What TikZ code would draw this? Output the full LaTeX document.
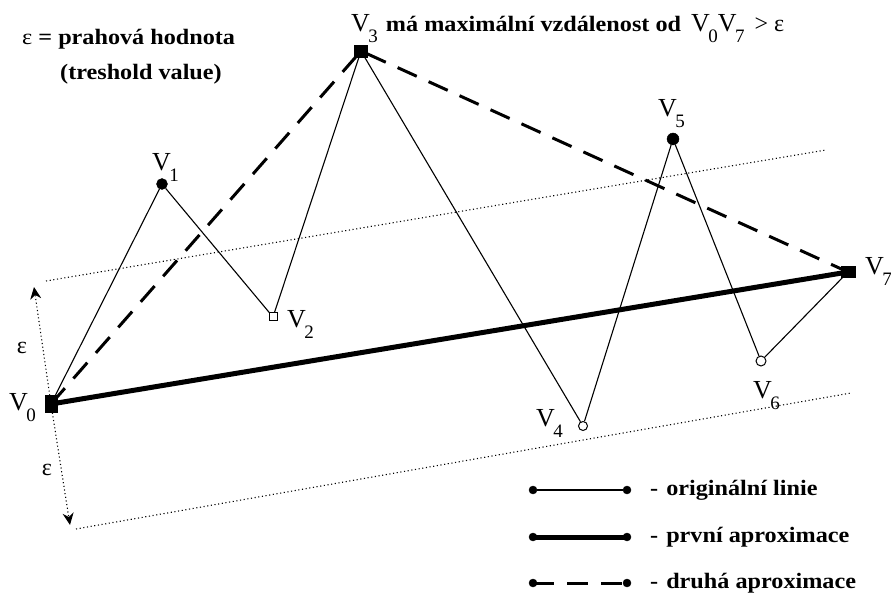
\documentclass[tikz,border=0pt]{standalone}
\usepackage{amsmath}
\usepackage{fontspec}
\setmainfont{Liberation Serif}
\newfontfamily\widebold[FakeStretch=1.1]{Liberation Serif}
\usetikzlibrary{arrows.meta, positioning}
\newcommand{\Vx}[1]{V\kern-1.5pt\raisebox{-11pt}{\fontsize{19}{19}\selectfont #1}}
\tikzset{
  sqfill/.style={
    rectangle,
    draw=black,
    fill=black,
    inner sep=0pt
  },
  dotfill/.style={
    circle,
    draw=black,
    fill=black,
    inner sep=0pt,
    minimum size=#1
  },
  sqopen/.style={
    rectangle,
    draw=black,
    fill=white,
    line width=1pt,
    inner sep=0pt,
    minimum size=#1
  },
  dotopen/.style={
    circle,
    draw=black,
    fill=white,
    line width=1pt,
    inner sep=0pt,
    minimum size=#1
  },
  origline/.style={
    draw=black,
    line width=1.1pt
  },
  firstapx/.style={
    draw=black,
    line width=5pt
  },
  secondapx/.style={
    draw=black,
    line width=3pt,
    dash pattern=on 21pt off 13pt
  },
  bandline/.style={
    draw=black,
    line width=1.1pt,
    dash pattern=on 1.1pt off 2.6pt
  },
  epsarrow/.style={
    bandline,
    -{Stealth[length=12pt, width=11pt]}
  },
  vlbl/.style={
    inner sep=0pt,
    anchor=base west,
    font=\fontsize{26}{28}\selectfont
  },
  txt/.style={
    inner sep=0pt,
    anchor=base west,
    font=\fontsize{22}{26}\widebold\bfseries
  }
}

\begin{document}
\begin{tikzpicture}[x=1pt, y=-1pt]
  \useasboundingbox[fill=white] (0,0) rectangle (891,593);

  % vertices of the polyline
  \node[sqfill, minimum width=12pt, minimum height=17pt] (v0) at (51,404) {};
  \node[dotfill=11pt] (v1) at (162,184) {};
  \node[sqopen=8pt] (v2) at (273,317) {};
  \node[sqfill, minimum width=13pt, minimum height=12pt] (v3) at (361,51) {};
  \node[dotopen=9pt] (v4) at (583,426) {};
  \node[dotfill=12pt] (v5) at (673,139) {};
  \node[dotopen=10pt] (v6) at (761,361) {};
  \node[sqfill, minimum width=14pt, minimum height=11pt] (v7) at (848,272) {};

  % band of width epsilon round V0V7
  \coordinate (eu) at (34,287);
  \coordinate (ed) at (70,525);
  \coordinate (bu) at (46,281);
  \coordinate (bue) at (826,150);
  \coordinate (bd) at (76,529);
  \coordinate (bde) at (851,393);
  \draw[bandline] (bu) -- (bue);
  \draw[bandline] (bd) -- (bde);
  \draw[epsarrow] (v0) -- (eu);
  \draw[epsarrow] (v0) -- (ed);

  % original line and the approximations
  \draw[origline] (v0) -- (v1) -- (v2) -- (v3) -- (v4) -- (v5) -- (v6) -- (v7);
  \draw[firstapx] (v0.center) -- (v7.center);
  \draw[secondapx] (v0.center) -- (v3.center) -- (v7.center);

  % labels
  \node[vlbl] (l0) at (9,410) {\Vx{0}};
  \node[vlbl] (l1) at (152,171) {\Vx{1}};
  \node[vlbl] (l2) at (287,327) {\Vx{2}};
  \node[vlbl] (l4) at (536,426) {\Vx{4}};
  \node[vlbl] (l5) at (658,117) {\Vx{5}};
  \node[vlbl] (l6) at (753,398) {\Vx{6}};
  \node[vlbl] (l7) at (865,275) {\Vx{7}};
  \node[vlbl] (l3) at (351,32) {\Vx{3}\hspace{8pt}{\fontsize{22}{26}\widebold\bfseries má maximální vzdálenost od}\hspace{10pt}\Vx{0}\Vx{7}\hspace{10pt}{\fontsize{24}{26}\selectfont > ε}};
  \node[txt] (eps) at (22,45) {{\mdseries ε} = prahová hodnota};
  \node[txt] (tsh) at (60,80) {(treshold value)};
  \node[inner sep=0pt, font=\fontsize{24}{24}\selectfont] (e1) at (22,348) {ε};
  \node[inner sep=0pt, font=\fontsize{24}{24}\selectfont] (e2) at (47,470) {ε};

  % legend
  \node[dotfill=8pt] (a1) at (533,490) {};
  \node[dotfill=8pt] (b1) at (627,490) {};
  \node[dotfill=8pt] (a2) at (533,537) {};
  \node[dotfill=8pt] (b2) at (627,537) {};
  \node[dotfill=8pt] (a3) at (533,583) {};
  \node[dotfill=8pt] (b3) at (627,583) {};
  \draw[origline] (a1) -- (b1);
  \draw[firstapx] (a2.center) -- (b2.center);
  \draw[secondapx] (a3.center) -- (b3.center);
  \node[txt, anchor=west] (t1) at (650,490) {-\hspace{8pt}originální linie};
  \node[txt, anchor=west] (t2) at (650,537) {-\hspace{8pt}první aproximace};
  \node[txt, anchor=west] (t3) at (650,583) {-\hspace{8pt}druhá aproximace};
\end{tikzpicture}
\end{document}
